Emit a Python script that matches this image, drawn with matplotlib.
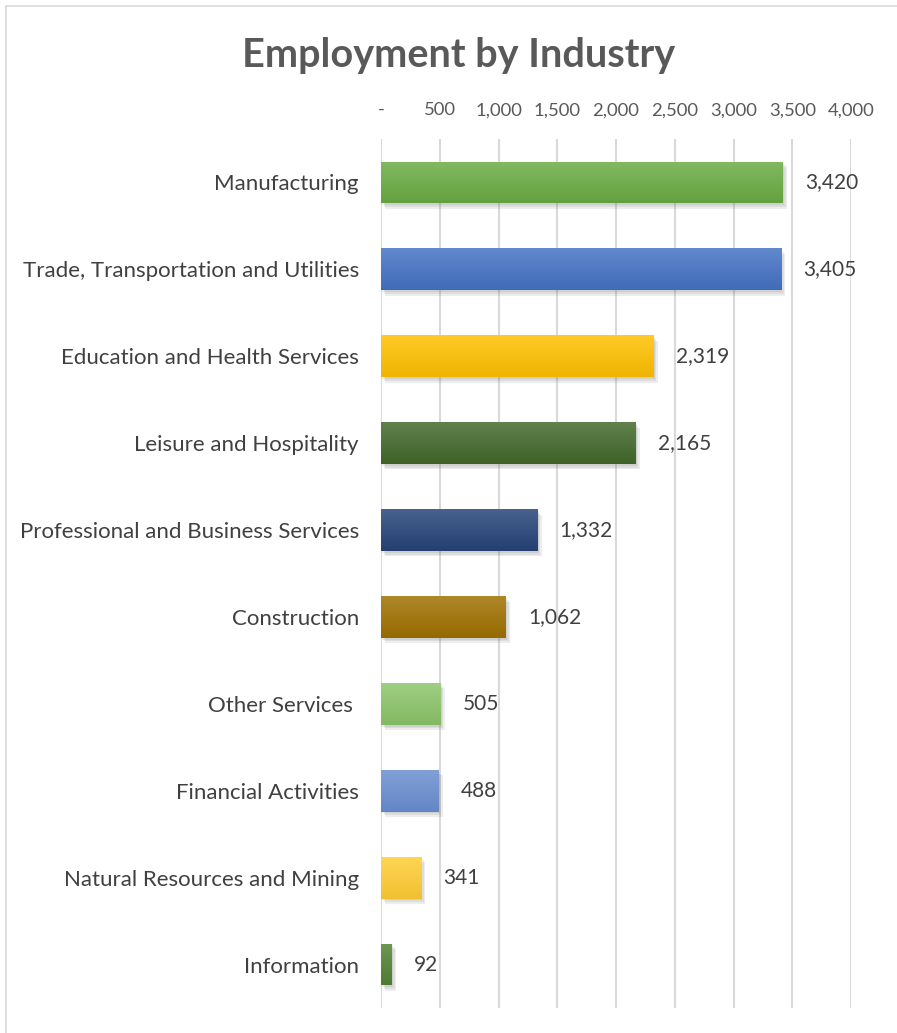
import numpy as np
import matplotlib
matplotlib.use("Agg")
import matplotlib.pyplot as plt
import matplotlib.patheffects as pe
from matplotlib.colors import to_rgb
from matplotlib.ticker import FuncFormatter
from matplotlib.patches import Rectangle

plt.rcParams['font.family'] = ['Lato', 'DejaVu Sans']

industries = [
    "Manufacturing",
    "Trade, Transportation and Utilities",
    "Education and Health Services",
    "Leisure and Hospitality",
    "Professional and Business Services",
    "Construction",
    "Other Services ",
    "Financial Activities",
    "Natural Resources and Mining",
    "Information",
]
employment = [3420, 3405, 2319, 2165, 1332, 1062, 505, 488, 341, 92]
bar_colors = [
    "#6aab44", "#4472c4", "#ffc000", "#43682b", "#264478",
    "#9e7000", "#8cc569", "#698ed0", "#ffcd33", "#548235",
]
x_ticks = [0, 500, 1000, 1500, 2000, 2500, 3000, 3500, 4000]

fig = plt.figure(figsize=(8.97, 10.33), dpi=100)
W, H = 897, 1033

# chart frame (light grey border)
fig.patches.append(Rectangle((6 / W, -0.1), 1.2, 1.1 - 6 / H,
                             transform=fig.transFigure, fill=False,
                             edgecolor="#d9d9d9", linewidth=1.2))

ax = fig.add_axes([381 / W, 1 - 1008 / H, (851 - 381) / W, (1008 - 139) / H])

y = np.arange(len(industries))
bars = ax.barh(y, employment, height=0.48, left=0, color=bar_colors, zorder=3)

# soft drop shadow and vertical gradient on each bar
shadow = [pe.SimplePatchShadow(offset=(o, -o * 1.3), shadow_rgbFace="#707070", alpha=0.12)
          for o in (1.0, 2.0, 3.0)]
for bar, col in zip(bars, bar_colors):
    bar.set_path_effects(shadow + [pe.Normal()])
    rgb = np.array(to_rgb(col))
    top = rgb + (1 - rgb) * 0.16
    bot = rgb * 0.94
    t = np.linspace(0, 1, 64)[:, None]
    grad = (top[None, :] * (1 - t) + bot[None, :] * t)[:, None, :]
    x0, y0 = bar.get_x(), bar.get_y()
    w, h = bar.get_width(), bar.get_height()
    im = ax.imshow(grad, extent=(x0, x0 + w, y0 + h, y0), aspect="auto", zorder=4,
                   interpolation="bilinear")
    im.set_clip_path(bar)

for yi, v in zip(y, employment):
    ax.annotate(f"{v:,}", (v, yi), xytext=(16, 0), textcoords="offset points",
                ha="left", va="center", fontsize=15, color="#404040", zorder=5)

ax.set_xlim(0, 4000)
ax.set_ylim(len(industries) - 0.5, -0.5)
ax.set_xticks(x_ticks)
ax.xaxis.set_major_formatter(FuncFormatter(lambda v, p: "-" if v == 0 else f"{int(v):,}"))
ax.xaxis.tick_top()
ax.tick_params(axis="x", length=0, pad=15, labelsize=13.3, labelcolor="#595959")
ax.set_yticks(y)
ax.set_yticklabels(industries)
ax.tick_params(axis="y", length=0, pad=16, labelsize=16, labelcolor="#404040")
ax.grid(axis="x", color="#d9d9d9", linewidth=1.5, zorder=0)
for s in ax.spines.values():
    s.set_visible(False)
ax.set_facecolor("none")

fig.text(459 / W, 1 - 56 / H, "Employment by Industry", ha="center", va="center",
         fontsize=28.5, fontweight="bold", color="#595959")

fig.savefig("out.png", dpi=100)
